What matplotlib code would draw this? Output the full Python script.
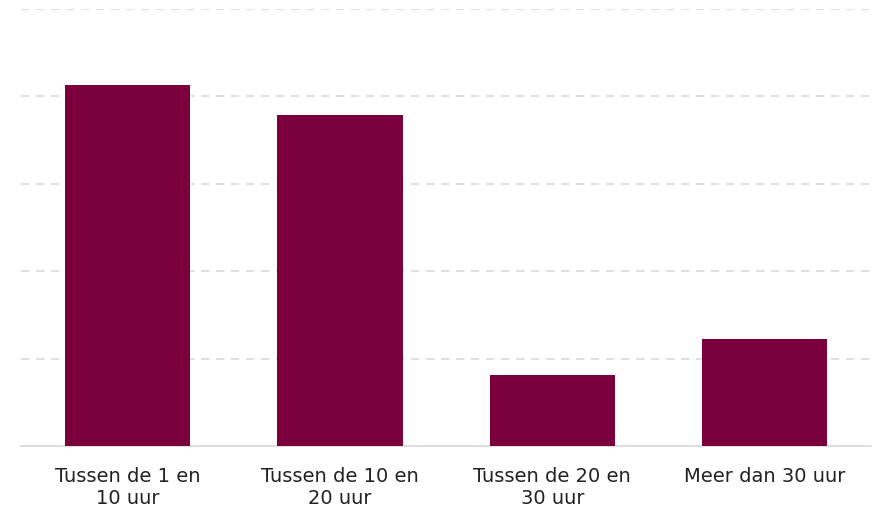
import numpy as np
import matplotlib.pyplot as plt

categories = ['Tussen de 1 en\n10 uur', 'Tussen de 10 en\n20 uur', 'Tussen de 20 en\n30 uur', 'Meer dan 30 uur']
values = [4.13, 3.79, 0.81, 1.22]

fig = plt.figure(figsize=(8.75, 5.09), dpi=100)
ax = fig.add_axes([21.25 / 875, 1 - 446 / 509, (871 - 21.25) / 875, (446 - 9) / 509])

x = np.arange(len(categories))
ax.bar(x, values, width=0.59, color='#7b003c', zorder=3)

ax.set_xlim(-0.5, len(categories) - 0.5)
ax.set_ylim(0, 5)
ax.set_yticks(np.arange(1, 6))
ax.yaxis.grid(True, color='#d9d9d9', linestyle=(0, (5, 4)), linewidth=1.2, zorder=0)
ax.tick_params(axis='y', left=False, labelleft=False)
ax.tick_params(axis='x', length=0, pad=15)
ax.set_xticks(x)
ax.set_xticklabels(categories, fontsize=14, color='#222222', linespacing=1.2)

for side in ['top', 'right', 'left']:
    ax.spines[side].set_visible(False)
ax.spines['bottom'].set_color('#d9d9d9')
ax.spines['bottom'].set_linewidth(1.2)

fig.savefig('out.png', dpi=100)
